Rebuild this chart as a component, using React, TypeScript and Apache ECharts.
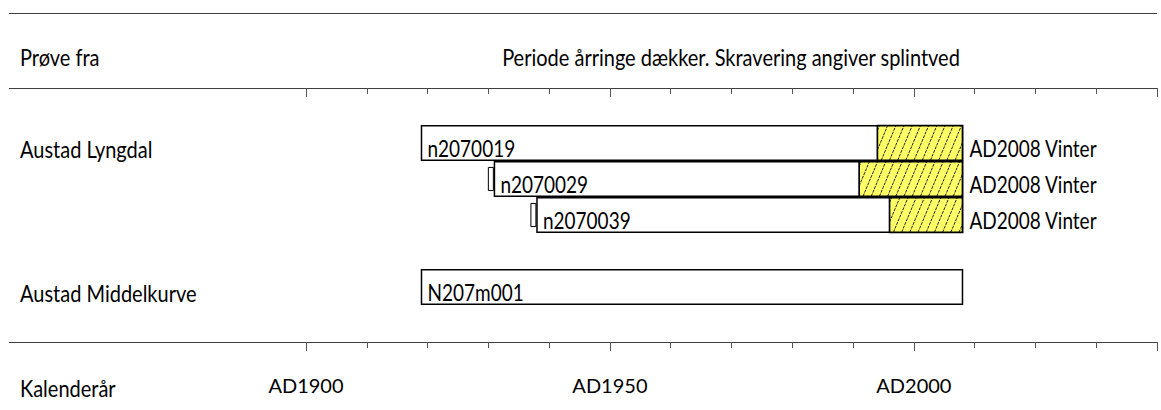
import React, { useEffect, useRef } from 'react';
import * as echarts from 'echarts';

// ---- data ----
const rowSlots = ['r0', 'r1', 'r2', 'r3', 'r4'];
const siteLabels = ['Austad Lyngdal', '', '', '', 'Austad Middelkurve'];
const sampleIds = ['n2070019', 'n2070029', 'n2070039', 'N207m001'];
const sampleRows = [0, 1, 2, 4];
const startYears = [1919, 1931, 1938, 1919];
const endYears = [2008, 2008, 2008, 2008];
const sapwoodStartYears: (number | null)[] = [1994, 1991, 1996, null];
const pithYears: (number | null)[] = [null, 1930, 1937, null];
const endLabels = ['AD2008 Vinter', 'AD2008 Vinter', 'AD2008 Vinter', ''];
const labelPrefix = 'AD';
const majorTickYears = [1900, 1950, 2000];
const axisMin = 1900;
const axisMax = 2040;
const headerLeft = 'Prøve fra';
const headerTitle = 'Periode årringe dækker. Skravering angiver splintved';
const axisTitle = 'Kalenderår';

const FONT = 'Lato';
const FS_WORD = 20;
const FS_NUM = 19;
const SY = 1.2;

export default function App() {
  const ref = useRef<HTMLDivElement>(null);
  useEffect(() => {
    if (!ref.current) return;
    const chart = echarts.init(ref.current, undefined, { renderer: 'svg' });

    const data = sampleIds.map((id, i) => ({
      name: id,
      value: [
        sampleRows[i],
        startYears[i],
        endYears[i],
        sapwoodStartYears[i] ?? -1,
        pithYears[i] ?? -1,
      ],
    }));

    const txt = (text: string, x: number, y: number, fs: number) => ({
      type: 'text',
      x,
      y,
      scaleY: SY,
      style: {
        text,
        x: 0,
        y: 0,
        fill: '#000000',
        font: `${fs}px ${FONT}`,
        textAlign: 'left',
        textVerticalAlign: 'middle',
      },
    });

    const renderItem = (params: any, api: any) => {
      const idx = params.dataIndex;
      const row = api.value(0);
      const s = api.value(1);
      const e = api.value(2);
      const sap = api.value(3);
      const pith = api.value(4);
      const p0 = api.coord([s, row]);
      const p1 = api.coord([e, row]);
      const band = api.size([0, 1])[1];
      const h = band * 0.96;
      const top = p0[1] - h / 2;
      const bottom = top + h;
      const children: any[] = [];
      children.push({
        type: 'rect',
        shape: { x: p0[0], y: top, width: p1[0] - p0[0], height: h },
        style: { fill: '#ffffff', stroke: '#000000', lineWidth: 1.5 },
      });
      if (sap > 0) {
        const ps = api.coord([sap, row]);
        const left = ps[0];
        const right = p1[0];
        children.push({
          type: 'rect',
          shape: { x: left, y: top, width: right - left, height: h },
          style: { fill: '#FFFF66', stroke: 'none' },
        });
        const run = h * 0.42;
        const step = 8.2;
        for (let x0 = left - run + 2; x0 < right; x0 += step) {
          const tMin = Math.max(0, (left - x0) / run);
          const tMax = Math.min(1, (right - x0) / run);
          if (tMax <= tMin) continue;
          children.push({
            type: 'line',
            shape: {
              x1: x0 + run * tMin,
              y1: bottom - h * tMin,
              x2: x0 + run * tMax,
              y2: bottom - h * tMax,
            },
            style: { stroke: '#222222', lineWidth: 1, lineDash: [3, 1] },
          });
        }
        children.push({
          type: 'rect',
          shape: { x: left, y: top, width: right - left, height: h },
          style: { fill: 'none', stroke: '#000000', lineWidth: 1.7 },
        });
      }
      if (pith > 0) {
        const pp = api.coord([pith, row]);
        const mh = h * 0.67;
        children.push({
          type: 'rect',
          shape: { x: pp[0], y: p0[1] - mh / 2, width: 5, height: mh },
          style: { fill: '#ffffff', stroke: '#000000', lineWidth: 1 },
        });
      }
      children.push(txt(sampleIds[idx], p0[0] + 6, p0[1] + 5, FS_NUM));
      if (endLabels[idx]) {
        children.push(txt(endLabels[idx], p1[0] + 7, p0[1] + 5, FS_NUM));
      }
      if (siteLabels[row]) {
        children.push(txt(siteLabels[row], 20, p0[1] + 6, FS_WORD));
      }
      return { type: 'group', children };
    };

    const baseX = {
      type: 'value',
      min: axisMin,
      max: axisMax,
      gridIndex: 0,
      offset: 37,
      axisLine: { show: false },
      splitLine: { show: false },
    };

    const header = (text: string, x: number, y: number, align: string) => ({
      type: 'text',
      x,
      y,
      scaleY: SY,
      style: {
        text,
        font: `${FS_WORD}px ${FONT}`,
        fill: '#000',
        textAlign: align,
        textVerticalAlign: 'middle',
      },
    });

    const option: any = {
      animation: false,
      textStyle: { fontFamily: FONT },
      grid: { left: 306, right: 4, top: 125, bottom: 105, containLabel: false },
      xAxis: [
        {
          ...baseX,
          position: 'bottom',
          interval: 10,
          axisTick: { show: true, length: 6, lineStyle: { color: '#555' } },
          axisLabel: { show: false },
        },
        {
          ...baseX,
          position: 'bottom',
          interval: 50,
          axisTick: { show: true, length: 9, lineStyle: { color: '#555' } },
          axisLabel: {
            show: true,
            margin: 33,
            fontSize: 20,
            fontFamily: FONT,
            color: '#000',
            formatter: (v: number) => (majorTickYears.includes(v) ? labelPrefix + v : ''),
          },
        },
        {
          ...baseX,
          position: 'top',
          interval: 10,
          axisTick: { show: true, inside: true, length: 6, lineStyle: { color: '#555' } },
          axisLabel: { show: false },
        },
        {
          ...baseX,
          position: 'top',
          interval: 50,
          axisTick: { show: true, inside: true, length: 9, lineStyle: { color: '#555' } },
          axisLabel: { show: false },
        },
      ],
      yAxis: {
        type: 'category',
        data: rowSlots,
        inverse: true,
        axisLine: { show: false },
        axisTick: { show: false },
        splitLine: { show: false },
        axisLabel: { show: false },
      },
      graphic: [
        { type: 'line', shape: { x1: 9, y1: 13.5, x2: 1157, y2: 13.5 }, style: { stroke: '#404040', lineWidth: 1 } },
        { type: 'line', shape: { x1: 9, y1: 88.5, x2: 1157, y2: 88.5 }, style: { stroke: '#404040', lineWidth: 1 } },
        { type: 'line', shape: { x1: 9, y1: 342.5, x2: 1157, y2: 342.5 }, style: { stroke: '#404040', lineWidth: 1 } },
        header(headerLeft, 20, 57, 'left'),
        header(headerTitle, 731, 57, 'center'),
        header(axisTitle, 20, 388, 'left'),
      ],
      series: [
        {
          type: 'custom',
          xAxisIndex: 0,
          yAxisIndex: 0,
          renderItem,
          encode: { x: [1, 2], y: 0 },
          data,
          clip: false,
        },
      ],
    };
    chart.setOption(option);
    return () => chart.dispose();
  }, []);
  return (
    <div
      ref={ref}
      style={{ position: 'fixed', left: 0, top: 0, width: 1161, height: 410, background: '#fff' }}
    />
  );
}
